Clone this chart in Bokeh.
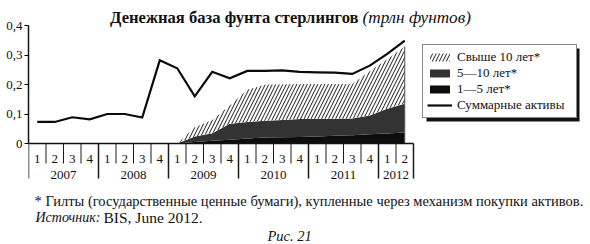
from bokeh.plotting import figure
from bokeh.models import Range1d, FixedTicker, Legend, LegendItem, ColumnDataSource, CustomJSTickFormatter
from bokeh.core.properties import value
from bokeh.embed import file_html
from bokeh.resources import INLINE

# ---------------- data ----------------
quarter_labels = ["1", "2", "3", "4"] * 5 + ["1", "2"]
years = ["2007", "2008", "2009", "2010", "2011", "2012"]
total_assets = [0.073, 0.073, 0.089, 0.082, 0.100, 0.100, 0.088, 0.282,
                0.255, 0.160, 0.243, 0.221, 0.246, 0.246, 0.248, 0.243,
                0.241, 0.240, 0.236, 0.264, 0.304, 0.349]
# gilt purchases, from 2009 Q1 (quarter index 8) on
gilts_first_quarter = 8
gilts_1_5 = [0.0, 0.005, 0.009, 0.013, 0.017, 0.020, 0.021, 0.022, 0.024, 0.026, 0.028, 0.031, 0.034, 0.037]
gilts_5_10 = [0.0, 0.019, 0.026, 0.054, 0.056, 0.057, 0.059, 0.061, 0.060, 0.058, 0.057, 0.064, 0.084, 0.098]
gilts_10_plus = [0.0, 0.031, 0.045, 0.062, 0.109, 0.122, 0.121, 0.119, 0.118, 0.118, 0.117, 0.150, 0.168, 0.194]
y_ticks = [0, 0.1, 0.2, 0.3, 0.4]

title_bold = "Денежная база фунта стерлингов"
title_italic = "(трлн фунтов)"
legend_labels = ["Свыше 10 лет*", "5—10 лет*", "1—5 лет*", "Суммарные активы"]
footnote = "* Гилты (государственные ценные бумаги), купленные через механизм покупки активов."
source_label = "Источник:"
source_text = "BIS, June 2012."
figure_label = "Рис. 21"

# ---------------- layout helpers ----------------
W, H = 590, 244
LEFT = 28          # frame left (y axis)
QW = 17.5          # pixels per quarter
Y0 = 143           # pixel row of value 0
PPU = 295.0        # pixels per unit of value

def gx(px):
    return (px - LEFT) / QW

def gy(py):
    return (Y0 - py) / PPU

SERIF = value("Liberation Serif")

p = figure(width=W, height=H, output_backend="svg", toolbar_location=None,
           x_axis_location=None, y_axis_location="left",
           x_range=Range1d(0, (W - LEFT) / QW), y_range=Range1d(gy(H), gy(0)),
           min_border_left=LEFT, min_border_right=0, min_border_top=0, min_border_bottom=0)
p.grid.visible = False
p.outline_line_color = None
p.background_fill_color = "white"
p.border_fill_color = "white"

ax = p.yaxis[0]
ax.ticker = FixedTicker(ticks=y_ticks)
ax.formatter = CustomJSTickFormatter(code="return tick == 0 ? '0' : tick.toFixed(1).replace('.', ',');")
ax.bounds = (0, 0.4)
ax.axis_line_width = 1.5
ax.axis_line_color = "#111111"
ax.major_tick_in = 0
ax.major_tick_out = 4
ax.major_tick_line_width = 1.2
ax.minor_tick_line_color = None
ax.major_label_standoff = 2
ax.major_label_text_font = "Liberation Serif"
ax.major_label_text_font_size = "13px"
ax.major_label_text_color = "#111111"

# ---------------- stacked areas ----------------
n = len(gilts_1_5)
src = ColumnDataSource(dict(
    x=[gilts_first_quarter + i + 0.5 for i in range(n)],
    g15=gilts_1_5, g510=gilts_5_10, g10=gilts_10_plus,
))
areas = p.varea_stack(["g15", "g510", "g10"], x="x", source=src,
                      fill_color=["#0d0d0d", "#333333", "white"],
                      hatch_pattern=[" ", " ", "/"],
                      hatch_color="#1a1a1a", hatch_weight=1, hatch_scale=7)

# right edge of the area block
tot_last = gilts_1_5[-1] + gilts_5_10[-1] + gilts_10_plus[-1]
p.segment(x0=[gilts_first_quarter + n - 0.5], y0=[0], x1=[gilts_first_quarter + n - 0.5], y1=[tot_last],
          line_color="#555555", line_width=1)

# ---------------- total assets line ----------------
line = p.line(x=[i + 0.5 for i in range(len(total_assets))], y=total_assets,
              line_color="#0a0a0a", line_width=2.2, line_join="miter")

# ---------------- category table below ----------------
nq = len(quarter_labels)
p.segment(x0=[0], y0=[0], x1=[nq], y1=[0], line_color="#111111", line_width=1.5)
xs, y1s, ws = [], [], []
for k in range(nq + 1):
    long_line = (k % 4 == 0) or k == nq
    xs.append(k)
    y1s.append(gy(178) if long_line else gy(163))
    ws.append(1.5 if long_line else 1.0)
p.segment(x0=xs, y0=[0] * len(xs), x1=xs, y1=y1s, line_color="#1a1a1a", line_width=ws)

p.text(x=[k + 0.5 for k in range(nq)], y=[gy(158)] * nq, text=quarter_labels,
       text_font=SERIF, text_font_size="13px", text_align="center", text_baseline="middle",
       text_color="#111111")
year_centers = []
for j, yr in enumerate(years):
    start = 4 * j
    end = min(4 * j + 4, nq)
    year_centers.append((start + end) / 2)
p.text(x=year_centers, y=[gy(174)] * len(years), text=years,
       text_font=SERIF, text_font_size="13px", text_align="center", text_baseline="middle",
       text_color="#111111")

# ---------------- title ----------------
p.text(x=[gx(358)], y=[gy(17)], text=[title_bold], text_font=SERIF, text_font_size="16.6px",
       text_font_style="bold", text_align="right", text_baseline="middle", text_color="#111111")
p.text(x=[gx(362)], y=[gy(17)], text=[title_italic], text_font=SERIF, text_font_size="17.2px",
       text_font_style="italic", text_align="left", text_baseline="middle", text_color="#111111")

# ---------------- footnotes ----------------
p.text(x=[gx(34)], y=[gy(200)], text=[footnote], text_font=SERIF, text_font_size="14.5px",
       text_align="left", text_baseline="middle", text_color="#111111")
p.text(x=[gx(35)], y=[gy(216.5)], text=[source_label], text_font=SERIF, text_font_size="14px",
       text_font_style="italic", text_align="left", text_baseline="middle", text_color="#111111")
p.text(x=[gx(103)], y=[gy(216.5)], text=[source_text], text_font=SERIF, text_font_size="15.5px",
       text_align="left", text_baseline="middle", text_color="#111111")
p.text(x=[gx(267)], y=[gy(235)], text=[figure_label], text_font=SERIF, text_font_size="14.5px",
       text_font_style="italic", text_align="left", text_baseline="middle", text_color="#111111")

# ---------------- legend shadow + legend ----------------
LG_L, LG_R, LG_T, LG_B = 422, 575, 45, 118
p.quad(left=[gx(LG_L + 4)], right=[gx(LG_R + 4)], top=[gy(LG_T + 3)], bottom=[gy(LG_B + 3)],
       fill_color="#111111", line_color=None)
swatch_outline = p.quad(left=[], right=[], top=[], bottom=[], fill_color=None,
                        line_color="#111111", line_width=1)

legend = Legend(items=[
    LegendItem(label=legend_labels[0], renderers=[areas[2], swatch_outline]),
    LegendItem(label=legend_labels[1], renderers=[areas[1]]),
    LegendItem(label=legend_labels[2], renderers=[areas[0]]),
    LegendItem(label=legend_labels[3], renderers=[line]),
], location=(LG_L - LEFT, H - LG_B))
legend.border_line_color = "#111111"
legend.border_line_width = 1.2
legend.background_fill_color = "white"
legend.background_fill_alpha = 1.0
legend.label_text_font = "Liberation Serif"
legend.label_text_font_size = "13px"
legend.label_text_line_height = 0.8
legend.label_text_color = "#111111"
legend.glyph_width = 25
legend.glyph_height = 10
legend.label_standoff = 5
legend.label_height = 12
legend.label_width = 115
legend.spacing = 0
legend.padding = 4
legend.margin = 0
p.add_layout(legend)

open("out.html", "w").write(file_html(p, INLINE))
